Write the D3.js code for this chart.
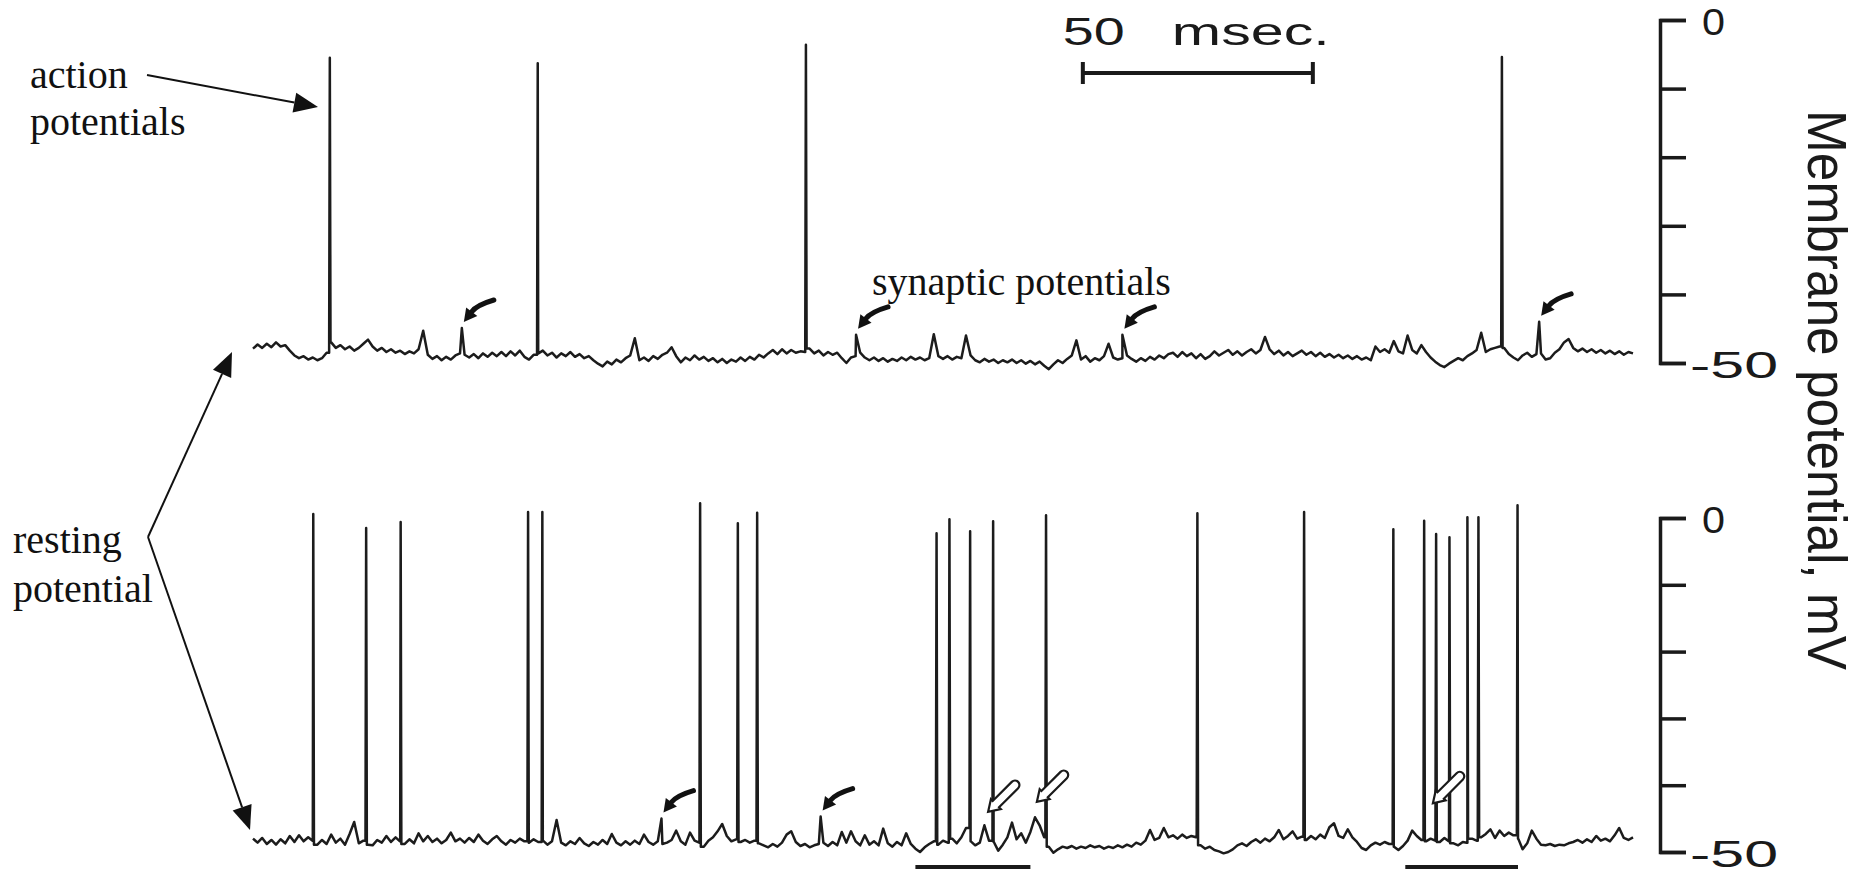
<!DOCTYPE html>
<html>
<meta charset="utf-8">
<style>
body { margin: 0; background: #fff; }
.trace { fill: none; stroke: #1c1c1c; stroke-width: 2.5; stroke-linejoin: round; }
.note { font-family: "Liberation Serif", "Times New Roman", serif; font-size: 40px; fill: #111; }
.sans { font-family: "Liberation Sans", Arial, sans-serif; fill: #1a1a1a; }
.axis path, .axis line { stroke: #1a1a1a; stroke-width: 3.5; }
</style>
<body>
<svg width="1864" height="873"></svg>
<script src="https://d3js.org/d3.v7.min.js"></script>
<script>

var step = 1;  // ms between baseline samples
var spikeHalfWidth = 0.15;  // ms, drawing width of a spike at its foot

// membrane potential (mV) sampled every ms, 0..300 ms
var topBaseline = [
  -47.9, -47.3, -47.8, -47.2, -47.7, -47.0, -47.6, -47.4, -48.2, -48.9,
  -49.3, -49.0, -49.5, -49.2, -49.6, -49.3, -48.5, -47.0, -47.8, -47.4,
  -48.0, -47.6, -48.2, -47.8, -47.2, -46.6, -47.6, -48.2, -47.8, -48.4,
  -48.0, -48.5, -48.2, -48.7, -48.3, -48.6, -48.0, -45.3, -48.8, -49.4,
  -49.0, -49.6, -49.1, -49.5, -48.9, -48.6, -48.8, -49.2, -48.7, -49.3,
  -48.6, -49.1, -48.5, -49.0, -48.4, -49.0, -48.3, -48.9, -48.2, -49.1,
  -49.5, -48.8, -48.6, -48.2, -48.9, -48.5, -49.2, -48.6, -49.0, -48.4,
  -49.1, -48.7, -49.3, -49.0, -49.6, -50.1, -50.5, -49.8, -50.2, -49.5,
  -49.9, -49.3, -48.9, -46.4, -49.6, -49.2, -49.7, -49.0, -49.4, -48.8,
  -48.5, -47.7, -49.0, -49.9, -49.2, -49.6, -48.9, -49.5, -49.1, -49.7,
  -49.3, -49.9, -49.4, -50.0, -49.5, -49.8, -49.2, -49.7, -49.1, -49.5,
  -48.8, -49.2, -48.6, -48.1, -48.7, -48.0, -48.6, -48.1, -48.5, -48.3,
  -48.4, -47.9, -48.6, -48.2, -48.9, -48.4, -48.8, -48.5, -49.3, -50.0,
  -49.2, -49.0, -48.5, -49.2, -49.6, -49.2, -49.7, -49.3, -49.8, -49.4,
  -49.7, -49.2, -49.6, -49.1, -49.5, -49.2, -49.6, -49.3, -45.8, -49.0,
  -49.4, -49.0, -49.5, -49.1, -49.3, -46.0, -48.9, -49.6, -49.9, -49.4,
  -49.8, -49.5, -50.0, -49.6, -49.9, -49.5, -50.0, -49.6, -50.1, -49.7,
  -50.2, -49.8, -50.4, -50.9, -50.2, -49.6, -50.0, -49.4, -48.9, -46.7,
  -49.5, -49.0, -49.8, -49.3, -49.6, -49.0, -47.2, -49.2, -49.5, -49.3,
  -48.9, -49.4, -49.8, -49.3, -49.7, -49.1, -49.5, -48.9, -49.3, -48.7,
  -48.5, -49.1, -48.4, -49.0, -48.6, -49.3, -48.7, -49.4, -49.0, -48.3,
  -48.9, -48.5, -48.1, -48.8, -48.3, -48.9, -48.4, -48.0, -48.6, -48.1,
  -46.2, -48.0, -48.7, -48.2, -48.9, -48.4, -49.0, -48.6, -48.2, -48.8,
  -48.4, -49.0, -48.5, -49.1, -48.7, -49.2, -48.8, -49.3, -48.9, -49.4,
  -49.0, -49.5, -49.2, -49.6, -47.6, -48.4, -48.0, -48.5, -46.8, -48.3,
  -48.6, -46.0, -48.1, -48.6, -47.4, -48.4, -49.2, -49.8, -50.3, -50.6,
  -50.1, -49.7, -49.3, -49.6, -49.0, -48.6, -48.1, -45.6, -48.4, -48.0,
  -47.8, -47.6, -47.8, -48.7, -49.2, -49.6, -48.9, -48.5, -49.1, -48.7,
  -48.6, -49.5, -49.3, -48.5, -48.0, -47.0, -46.5, -47.8, -48.3, -47.9,
  -48.4, -48.0, -48.5, -48.1, -48.6, -48.2, -48.7, -48.3, -48.8, -48.4,
  -48.6
];

var bottomBaseline = [
  -48.0, -48.6, -47.9, -48.8, -48.2, -48.9, -48.1, -48.7, -47.6, -48.5,
  -47.5, -48.4, -47.8, -48.3, -48.9, -48.2, -48.8, -47.4, -48.6, -48.0,
  -48.9, -47.3, -45.5, -48.7, -48.3, -48.9, -49.0, -48.2, -48.6, -47.6,
  -48.5, -47.8, -48.4, -48.8, -48.1, -48.7, -47.2, -48.4, -47.6, -48.5,
  -48.0, -48.7, -48.2, -47.1, -48.4, -48.0, -48.6, -47.9, -48.5, -47.4,
  -48.3, -48.8, -48.1, -47.6, -48.4, -48.9, -48.2, -48.6, -48.0, -48.4,
  -48.6, -48.1, -48.5, -48.3, -48.9, -48.4, -45.2, -48.6, -49.0, -48.4,
  -48.8, -47.9, -48.7, -49.1, -48.5, -48.9, -48.2, -48.8, -47.3, -48.6,
  -49.0, -48.4, -48.9, -48.3, -48.8, -47.4, -48.5, -48.9, -48.4, -48.8,
  -48.6, -48.2, -46.8, -48.4, -48.9, -47.1, -48.3, -48.6, -49.2, -48.3,
  -47.8, -46.9, -45.8, -47.6, -48.4, -48.1, -48.5, -48.2, -48.6, -48.3,
  -48.7, -49.0, -49.3, -48.8, -49.2, -48.6, -47.4, -46.9, -48.5, -49.1,
  -48.8, -49.3, -49.0, -48.8, -48.6, -49.1, -48.5, -49.0, -47.0, -48.6,
  -46.9, -48.4, -49.0, -47.5, -48.9, -48.4, -49.0, -46.5, -48.7, -49.2,
  -48.5, -49.0, -47.2, -48.8, -49.5, -50.0, -49.3, -48.8, -48.4, -48.9,
  -48.3, -48.6, -48.0, -48.7, -47.8, -46.4, -48.4, -49.0, -48.6, -46.0,
  -48.3, -48.5, -49.8, -48.9, -47.8, -45.6, -48.1, -47.2, -48.6, -47.0,
  -44.8, -46.0, -47.8, -49.2, -50.1, -49.6, -49.2, -49.4, -49.1, -49.5,
  -49.2, -49.4, -49.0, -49.3, -49.1, -49.5, -49.2, -49.4, -49.0, -49.3,
  -48.9, -49.2, -48.6, -48.9, -48.3, -46.7, -48.2, -47.9, -46.4, -47.8,
  -47.5, -48.0, -47.4, -47.9, -47.6, -47.8, -49.0, -49.5, -49.2, -49.7,
  -49.9, -50.2, -50.0, -49.6, -49.0, -48.7, -49.1, -48.5, -48.1, -48.6,
  -48.0, -48.4, -47.8, -46.7, -48.1, -47.6, -46.9, -48.0, -47.7, -48.2,
  -47.6, -48.1, -47.4, -47.9, -46.3, -45.7, -47.6, -47.9, -46.6, -47.8,
  -48.5, -49.4, -49.7, -49.0, -48.6, -48.9, -48.5, -48.8, -49.2, -49.7,
  -49.1, -48.3, -46.8, -47.6, -48.2, -48.4, -48.0, -48.3, -48.5, -47.9,
  -48.4, -48.7, -49.0, -48.5, -48.6, -48.0, -48.3, -47.8, -47.3, -46.6,
  -47.9, -46.8, -47.6, -47.1, -47.5, -48.0, -49.6, -48.7, -46.8, -48.0,
  -48.9, -49.0, -48.8, -49.1, -48.9, -49.0, -48.7, -48.5, -48.2, -48.6,
  -48.1, -48.5, -47.6, -48.3, -48.0, -48.4, -47.5, -46.4, -47.9, -48.2,
  -47.8
];

// action potentials: [time ms, peak mV]
var topSpikes = [[16.7, -5.5], [61.9, -6.3], [120.2, -3.6], [271.5, -5.4]];
var bottomSpikes = [
  [13.1, 0.6], [24.6, -1.5], [32.1, -0.6], [59.8, 0.9], [62.9, 0.9], [97.2, 2.2],
  [105.4, -0.8], [109.6, 0.8], [148.6, -2.3], [151.4, -0.2], [155.9, -2.0], [160.9, -0.5],
  [172.4, 0.4], [205.3, 0.7], [228.5, 0.9], [247.9, -1.7], [254.6, -0.4], [257.2, -2.4],
  [260.1, -2.9], [264.0, 0.1], [266.4, 0.1], [274.9, 1.9]
];

// synaptic potentials marked with arrows: [time ms, peak mV]
var topSynaptic = [[45.4, -44.9], [131.1, -45.9], [189.0, -45.9], [279.6, -44.0]];
var bottomSynaptic = [[88.8, -45.0], [123.4, -44.7]];

// open arrows on the lower trace: [time ms, mV] of the tip
var hollowMarks = [[159.8, -44.0], [170.4, -42.5], [256.5, -42.7]];

// bursts underlined below the lower trace: [start ms, end ms]
var bursts = [[144, 169], [250.5, 275]];

var yTicks = [-50, -40, -30, -20, -10, 0];
var scaleBarStart = 180.4, scaleBarMs = 50;

var svg = d3.select("svg");

svg.append("rect").attr("width", 1864).attr("height", 873).attr("fill", "#fff");

var x = d3.scaleLinear().domain([0, 300]).range([253, 1633]);
var yTop = d3.scaleLinear().domain([-50, 0]).range([363, 20]);
var yBot = d3.scaleLinear().domain([-50, 0]).range([852, 518]);

// baseline samples plus spikes; a spike rises from the sample before it
// and falls back to the sample after it
function tracePoints(base, spikes, syn) {
  var p = base.map(function(v, i) { return [i * step, v]; });
  spikes.forEach(function(s) {
    var i = Math.floor(s[0] / step);
    p.push([s[0] - spikeHalfWidth, base[i]]);
    p.push(s);
    p.push([s[0] + spikeHalfWidth, base[i + 1]]);
  });
  return p.concat(syn).sort(function(a, b) { return a[0] - b[0]; });
}

function drawTrace(base, spikes, syn, y) {
  var line = d3.line()
      .x(function(d) { return x(d[0]); })
      .y(function(d) { return y(d[1]); });
  svg.append("path")
      .attr("class", "trace")
      .attr("d", line(tracePoints(base, spikes, syn)));
}

drawTrace(topBaseline, topSpikes, topSynaptic, yTop);
drawTrace(bottomBaseline, bottomSpikes, bottomSynaptic, yBot);

// bracket-like voltage axes on the right
function drawAxis(y) {
  var g = svg.append("g")
      .attr("class", "axis")
      .attr("transform", "translate(1660,0)")
      .call(d3.axisRight(y)
        .tickValues(yTicks)
        .tickSize(26)
        .tickSizeOuter(26)
        .tickFormat(function(d) { return d === 0 ? "0" : d === -50 ? "-50" : ""; }));

  g.selectAll("text")
      .attr("class", "sans")
      .attr("font-size", 36)
      .attr("dy", null)
      .attr("y", 14)
      .attr("x", function(d) { return d === 0 ? 42 : 30; })
      .attr("lengthAdjust", "spacingAndGlyphs")
      .attr("textLength", function(d) { return d === 0 ? 23 : d === -50 ? 88 : null; });
}

drawAxis(yTop);
drawAxis(yBot);

svg.append("text")
    .attr("class", "sans")
    .attr("font-size", 56)
    .attr("text-anchor", "middle")
    .attr("transform", "translate(1808,390) rotate(90)")
    .attr("textLength", 560)
    .attr("lengthAdjust", "spacingAndGlyphs")
    .text("Membrane potential, mV");

// time scale bar
var sb0 = x(scaleBarStart), sb1 = x(scaleBarStart + scaleBarMs);
var bar = svg.append("g").attr("stroke", "#1a1a1a").attr("stroke-width", 4);
bar.append("line").attr("x1", sb0).attr("x2", sb1).attr("y1", 73).attr("y2", 73);
bar.append("line").attr("x1", sb0).attr("x2", sb0).attr("y1", 62).attr("y2", 84);
bar.append("line").attr("x1", sb1).attr("x2", sb1).attr("y1", 62).attr("y2", 84);

svg.append("text").attr("class", "sans").attr("font-size", 39)
    .attr("x", sb0 - 20).attr("y", 45)
    .attr("textLength", 62).attr("lengthAdjust", "spacingAndGlyphs")
    .text("50");
svg.append("text").attr("class", "sans").attr("font-size", 39)
    .attr("x", sb0 + 89).attr("y", 45)
    .attr("textLength", 158).attr("lengthAdjust", "spacingAndGlyphs")
    .text("msec.");

// burst underlines
svg.selectAll(".burst")
  .data(bursts)
  .enter().append("line")
    .attr("class", "burst")
    .attr("x1", function(d) { return x(d[0]); })
    .attr("x2", function(d) { return x(d[1]); })
    .attr("y1", 867).attr("y2", 867)
    .attr("stroke", "#1a1a1a")
    .attr("stroke-width", 4);

// arrow helpers
function headPoints(tip, from, len, half) {
  var dx = tip[0] - from[0], dy = tip[1] - from[1], d = Math.hypot(dx, dy);
  var ux = dx / d, uy = dy / d;
  var bx = tip[0] - ux * len, by = tip[1] - uy * len;
  return [tip, [bx - uy * half, by + ux * half], [bx + uy * half, by - ux * half], [bx, by]];
}

function straightArrow(from, tip) {
  var h = headPoints(tip, from, 24, 10);
  svg.append("line")
      .attr("x1", from[0]).attr("y1", from[1])
      .attr("x2", h[3][0]).attr("y2", h[3][1])
      .attr("stroke", "#111").attr("stroke-width", 2);
  svg.append("path")
      .attr("d", "M" + h.slice(0, 3).join("L") + "Z")
      .attr("fill", "#111");
}

function synArrow(d, y) {
  var tip = [x(d[0]) + 2, y(d[1]) - 6];
  var tail = [tip[0] + 30, tip[1] - 22];
  var ctrl = [tip[0] + 13, tip[1] - 17];
  var h = headPoints(tip, ctrl, 13, 7);
  svg.append("path")
      .attr("d", "M" + tail + "Q" + ctrl + " " + h[3])
      .attr("fill", "none").attr("stroke", "#111")
      .attr("stroke-width", 5).attr("stroke-linecap", "round");
  svg.append("path")
      .attr("d", "M" + h.slice(0, 3).join("L") + "Z")
      .attr("fill", "#111");
}

topSynaptic.forEach(function(d) { synArrow(d, yTop); });
bottomSynaptic.forEach(function(d) { synArrow(d, yBot); });

svg.selectAll(".hollow")
  .data(hollowMarks)
  .enter().append("path")
    .attr("class", "hollow")
    .attr("transform", function(d) { return "translate(" + x(d[0]) + "," + yBot(d[1]) + ") rotate(-45)"; })
    .attr("d", "M0,0L11,-7L11,-4.5L38,-4.5A4.5,4.5 0 0 1 38,4.5L11,4.5L11,7Z")
    .attr("fill", "#fff")
    .attr("stroke", "#1a1a1a")
    .attr("stroke-width", 2.2);

// annotations
svg.append("text").attr("class", "note").attr("x", 30).attr("y", 88).text("action");
svg.append("text").attr("class", "note").attr("x", 30).attr("y", 135).text("potentials");
straightArrow([147, 75], [318, 107]);

svg.append("text").attr("class", "note").attr("x", 13).attr("y", 553).text("resting");
svg.append("text").attr("class", "note").attr("x", 13).attr("y", 602).text("potential");
straightArrow([148, 537], [232, 352]);
straightArrow([148, 537], [250, 830]);

svg.append("text").attr("class", "note").attr("x", 872).attr("y", 295).text("synaptic potentials");

</script>
</body>
</html>
